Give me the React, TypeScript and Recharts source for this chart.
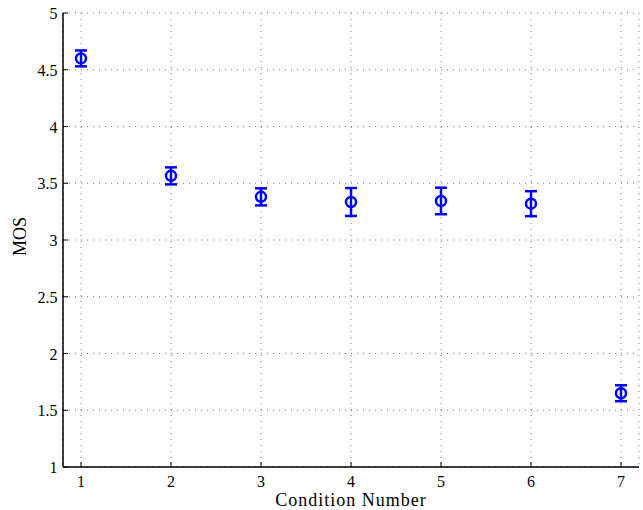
import React from 'react'
import {
  ComposedChart,
  Scatter,
  ErrorBar,
  XAxis,
  YAxis,
  CartesianGrid,
} from 'recharts'

// MOS per test condition, with confidence interval half-widths
const conditions = [1, 2, 3, 4, 5, 6, 7]
const mosScores = [4.6, 3.565, 3.38, 3.335, 3.344, 3.32, 1.65]
const ciHalfWidths = [0.07, 0.075, 0.075, 0.123, 0.117, 0.11, 0.07]

const xTicks = [1, 2, 3, 4, 5, 6, 7]
const yTicks = [1, 1.5, 2, 2.5, 3, 3.5, 4, 4.5, 5]

const data = conditions.map((c, i) => ({
  condition: c,
  mos: mosScores[i],
  ci: ciHalfWidths[i],
}))

const FONT = "'Liberation Serif', 'Times New Roman', serif"
const BLUE = '#0000ff'
const TICK_LEN = 5

// bottom axis: inward tick mark + number below
const BottomTick = (props: any) => {
  const { x, y, payload } = props
  return (
    <g>
      <line x1={x} y1={y} x2={x} y2={y - TICK_LEN} stroke="#000" strokeWidth={1} />
      <text x={x} y={y + 19.5} textAnchor="middle" style={{ fontFamily: FONT, fontSize: 16 }} fill="#000">
        {payload.value}
      </text>
    </g>
  )
}

// left axis: inward tick mark + number on the left
const LeftTick = (props: any) => {
  const { x, y, payload } = props
  return (
    <g>
      <line x1={x} y1={y} x2={x + TICK_LEN} y2={y} stroke="#000" strokeWidth={1} />
      <text x={x - 5.5} y={y + 6} textAnchor="end" style={{ fontFamily: FONT, fontSize: 16 }} fill="#000">
        {String(payload.value)}
      </text>
    </g>
  )
}

const TopTick = (props: any) => {
  const { x, y } = props
  return <line x1={x} y1={y} x2={x} y2={y + TICK_LEN} stroke="#000" strokeWidth={1} />
}

const RightTick = (props: any) => {
  const { x, y } = props
  return <line x1={x} y1={y} x2={x - TICK_LEN} y2={y} stroke="#000" strokeWidth={1} />
}

const RingMarker = (props: any) => {
  const { cx, cy } = props
  return <circle cx={cx} cy={cy} r={5} fill="none" stroke={BLUE} strokeWidth={2.5} />
}

export default function App() {
  return (
    <div style={{ position: 'absolute', left: 0, top: 0, background: '#fff', fontFamily: FONT }}>
      <ComposedChart
        width={643}
        height={510}
        data={data}
        margin={{ top: 13, right: 4, left: 0, bottom: 0 }}
        style={{ fontFamily: FONT }}
      >
        <CartesianGrid stroke="#777" strokeDasharray="1 5" strokeWidth={1} />
        <XAxis
          dataKey="condition"
          type="number"
          domain={[0.8, 7.2]}
          ticks={xTicks}
          height={43}
          tickSize={0}
          tickMargin={0}
          tickLine={false}
          tick={<BottomTick />}
          axisLine={{ stroke: '#000', strokeWidth: 1.5 }}
          label={{
            value: 'Condition Number',
            position: 'insideBottom',
            offset: 4,
            style: { fontFamily: FONT, fontSize: 18, letterSpacing: 1 },
            fill: '#000',
          }}
        />
        <XAxis
          xAxisId="top"
          orientation="top"
          type="number"
          domain={[0.8, 7.2]}
          ticks={xTicks}
          height={0}
          tickSize={0}
          tickMargin={0}
          tickLine={false}
          tick={<TopTick />}
          axisLine={{ stroke: '#000', strokeWidth: 1.5 }}
        />
        <YAxis
          type="number"
          domain={[1, 5]}
          ticks={yTicks}
          width={63}
          tickSize={0}
          tickMargin={0}
          tickLine={false}
          tick={<LeftTick />}
          axisLine={{ stroke: '#000', strokeWidth: 1.5 }}
          label={{
            value: 'MOS',
            angle: -90,
            position: 'center',
            dx: -11.5,
            dy: -3.5,
            style: { fontFamily: FONT, fontSize: 18 },
            fill: '#000',
          }}
        />
        <YAxis
          yAxisId="right"
          orientation="right"
          type="number"
          domain={[1, 5]}
          ticks={yTicks}
          width={0}
          tickSize={0}
          tickMargin={0}
          tickLine={false}
          tick={<RightTick />}
          axisLine={{ stroke: '#000', strokeWidth: 1.5 }}
        />
        <Scatter dataKey="mos" shape={<RingMarker />} isAnimationActive={false}>
          <ErrorBar dataKey="ci" direction="y" width={6} stroke={BLUE} strokeWidth={2.5} isAnimationActive={false} />
        </Scatter>
      </ComposedChart>
    </div>
  )
}
